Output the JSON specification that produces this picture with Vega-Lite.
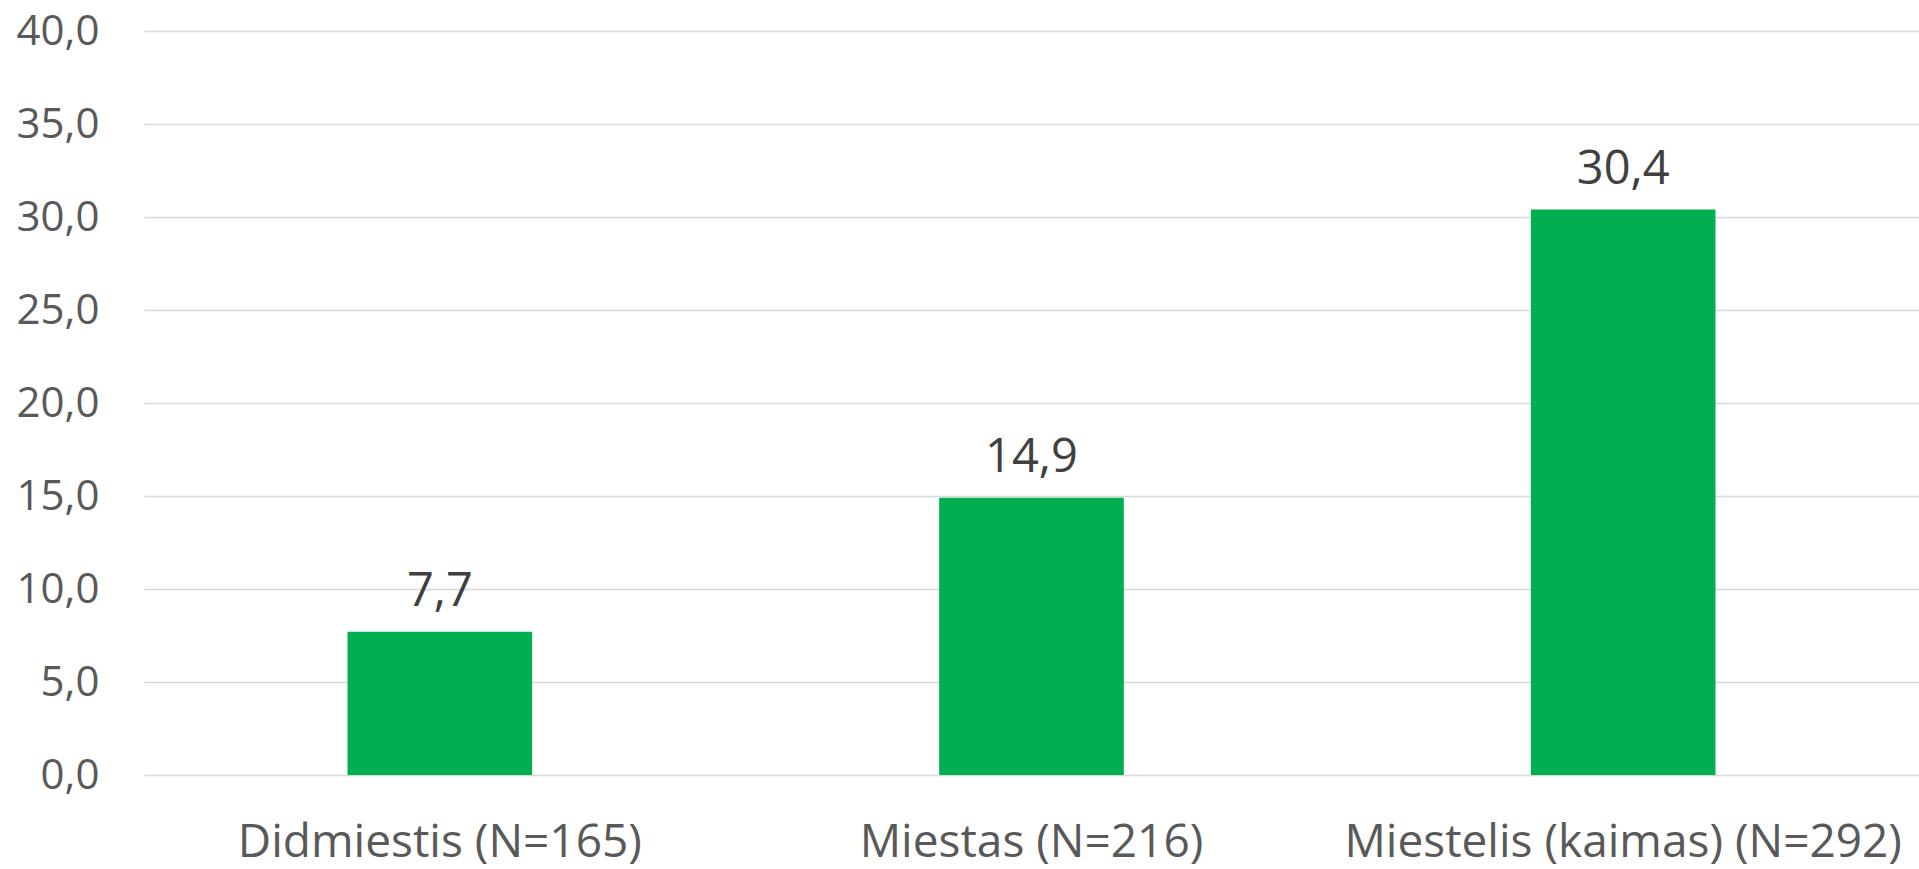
{
  "$schema": "https://vega.github.io/schema/vega-lite/v6.json",
  "width": 1775,
  "height": 744,
  "autosize": {"type": "none"},
  "padding": {"left": 144, "top": 31, "right": 0, "bottom": 94},
  "background": "white",
  "config": {
    "locale": {"number": {"decimal": ",", "thousands": " ", "grouping": [3], "currency": ["", " €"]}},
    "view": {"stroke": null},
    "font": "Open Sans"
  },
  "data": {
    "values": [
      {"group": "Didmiestis (N=165)", "value": 7.7},
      {"group": "Miestas (N=216)", "value": 14.9},
      {"group": "Miestelis (kaimas) (N=292)", "value": 30.4}
    ]
  },
  "encoding": {
    "x": {
      "field": "group",
      "type": "nominal",
      "sort": null,
      "scale": {"paddingInner": 0.688, "paddingOuter": 0.344},
      "axis": {
        "title": null,
        "labelAngle": 0,
        "domain": false,
        "ticks": false,
        "grid": false,
        "labelFont": "Open Sans",
        "labelFontSize": 46,
        "labelColor": "#595959",
        "labelBaseline": "alphabetic",
        "labelPadding": 81,
        "labelLimit": 900
      }
    },
    "y": {
      "field": "value",
      "type": "quantitative",
      "scale": {"domain": [0, 40], "nice": false},
      "axis": {
        "title": null,
        "values": [0, 5, 10, 15, 20, 25, 30, 35, 40],
        "format": ".1f",
        "domain": false,
        "ticks": false,
        "grid": true,
        "gridColor": "#d9d9d9",
        "gridWidth": 1.5,
        "labelFont": "Open Sans",
        "labelFontSize": 42,
        "labelColor": "#595959",
        "labelPadding": 45
      }
    }
  },
  "layer": [
    {"mark": {"type": "bar", "color": "#00b050"}},
    {
      "mark": {"type": "text", "font": "Open Sans", "fontSize": 47, "color": "#404040", "baseline": "alphabetic", "dy": -26},
      "encoding": {"text": {"field": "value", "type": "quantitative", "format": ".1f"}}
    }
  ]
}
